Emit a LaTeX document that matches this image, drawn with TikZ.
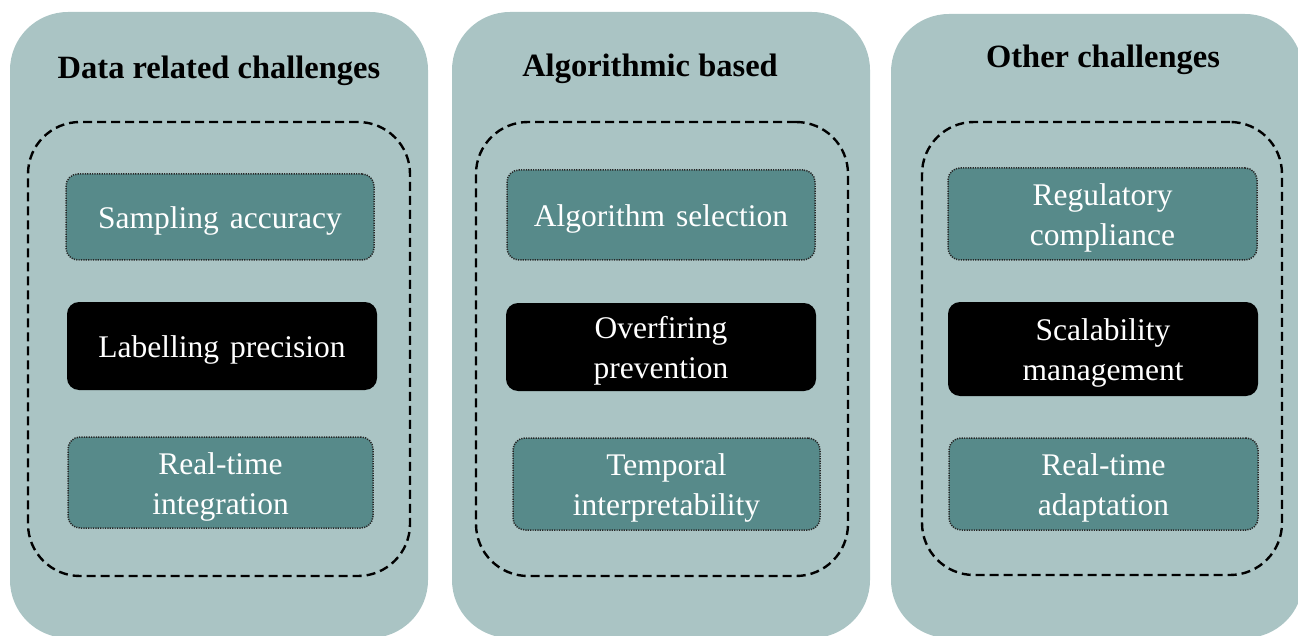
\documentclass[tikz,border=0pt]{standalone}
\usepackage{fontspec}
\setmainfont{Liberation Serif}
\definecolor{panelc}{RGB}{170,196,196}
\definecolor{boxc}{RGB}{87,138,138}
\begin{document}
\begin{tikzpicture}[x=1pt,y=-1pt,
  panel/.style={draw=none, fill=panelc, rounded corners=58pt, inner sep=0pt},
  group/.style={draw=black, line width=2.4pt, dash pattern=on 9pt off 5pt, rounded corners=52pt, inner sep=0pt},
  itembox/.style={draw=black!85, fill=boxc, line width=1.5pt, dash pattern=on 1.2pt off 1.2pt, rounded corners=12pt, inner sep=0pt},
  keybox/.style={draw=none, fill=black, rounded corners=12pt, inner sep=0pt},
  itemtext/.style={inner sep=0pt, yshift=-4pt, text=white, align=center, font=\fontsize{31.5}{40}\selectfont},
  title/.style={inner sep=0pt, font=\bfseries\fontsize{32.5}{38}\selectfont, text=black}]
\useasboundingbox (0,0) rectangle (1298,636);
% panels
\node[panel, minimum width=418pt, minimum height=626pt] (p1) at (219,325) {};
\node[panel, minimum width=418pt, minimum height=626pt] (p2) at (661,325) {};
\node[panel, minimum width=412pt, minimum height=624pt] (p3) at (1097,326) {};
% titles
\node[title] (t1) at (219,71) {Data related challenges};
\node[title] (t2) at (650,69) {Algorithmic based};
\node[title] (t3) at (1103,60) {Other challenges};
% dashed groups
\node[group, minimum width=382pt, minimum height=454pt] (g1) at (219,349) {};
\node[group, minimum width=372pt, minimum height=454pt] (g2) at (662,349) {};
\node[group, minimum width=360pt, minimum height=453pt] (g3) at (1102,348.5) {};
% panel 1 items
\node[itembox, minimum width=308pt, minimum height=86pt] (a1) at (220,217) {};
\node[itemtext] (a1t) at (a1.center) {Sampling\hspace{0.35em}accuracy};
\node[keybox, minimum width=310pt, minimum height=88pt] (a2) at (222,346) {};
\node[itemtext] (a2t) at (a2.center) {Labelling\hspace{0.35em}precision};
\node[itembox, minimum width=305pt, minimum height=91pt] (a3) at (220.5,482.5) {};
\node[itemtext] (a3t) at (a3.center) {Real-time\\integration};
% panel 2 items
\node[itembox, minimum width=308pt, minimum height=90pt] (b1) at (661,215) {};
\node[itemtext] (b1t) at (b1.center) {Algorithm\hspace{0.35em}selection};
\node[keybox, minimum width=310pt, minimum height=88pt] (b2) at (661,347) {};
\node[itemtext] (b2t) at (b2.center) {Overfiring\\prevention};
\node[itembox, minimum width=307pt, minimum height=92pt] (b3) at (666.5,484) {};
\node[itemtext] (b3t) at (b3.center) {Temporal\\interpretability};
% panel 3 items
\node[itembox, minimum width=309pt, minimum height=92pt] (c1) at (1102.5,214) {};
\node[itemtext] (c1t) at (c1.center) {Regulatory\\compliance};
\node[keybox, minimum width=310pt, minimum height=94pt] (c2) at (1103,349) {};
\node[itemtext] (c2t) at (c2.center) {Scalability\\management};
\node[itembox, minimum width=309pt, minimum height=92pt] (c3) at (1103.5,484) {};
\node[itemtext] (c3t) at (c3.center) {Real-time\\adaptation};
\end{tikzpicture}
\end{document}
